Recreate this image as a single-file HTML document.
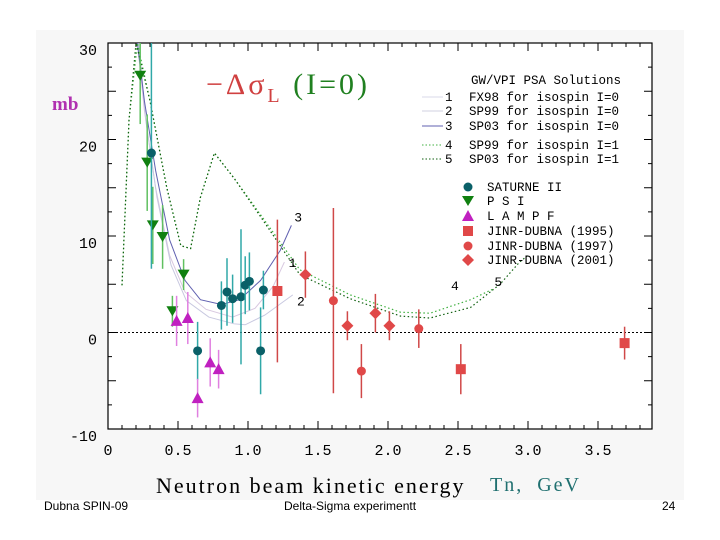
<!DOCTYPE html>
<html><head><meta charset="utf-8"><style>
body{margin:0;background:#fff;}
svg{display:block;font-family:"Liberation Sans",sans-serif;}
</style></head><body>
<svg width="720" height="540" viewBox="0 0 720 540">
<rect x="36" y="30" width="648" height="470" fill="#f7f7f7"/>
<rect x="108" y="43" width="544" height="386" fill="#fff" stroke="#000" stroke-width="1.2"/>
<g id="axes"></g>
<g id="curves"></g>
<g id="marks"></g>
<text x="206" y="94" font-family="Liberation Serif,serif" font-size="30" letter-spacing="3" fill="#d04040">−Δσ<tspan font-size="20" dy="8">L</tspan><tspan dy="-8" fill="#208020"> (I=0)</tspan></text>
<text x="52" y="110" font-family="Liberation Serif,serif" font-size="19" font-weight="bold" fill="#b030b0">mb</text>
<g font-size="12.5" font-family="Liberation Mono,monospace" fill="#000">
<text x="471" y="84">GW/VPI PSA Solutions</text>
</g>
<g id="legend" font-family="Liberation Mono,monospace"></g>
<text x="156" y="493" font-family="Liberation Serif,serif" font-size="22" letter-spacing="2" fill="#000">Neutron beam kinetic energy</text>
<text x="490" y="491" font-family="Liberation Serif,serif" font-size="20" letter-spacing="2" fill="#207070" xml:space="preserve">Tn,  GeV</text>
<text x="44" y="510" font-size="12" fill="#000">Dubna SPIN-09</text>
<text x="284" y="510" font-size="12" fill="#000">Delta-Sigma experimentt</text>
<text x="662" y="510" font-size="12" fill="#000">24</text>
</svg>
<script>
const xTicks=[0,0.5,1.0,1.5,2.0,2.5,3.0,3.5];
const xTickLabels=["0","0.5","1.0","1.5","2.0","2.5","3.0","3.5"];
const yTicks=[30,20,10,0,-10];
const yTickLabels=["30","20","10","0","-10"];
const saturneX=[0.31,0.81,0.85,0.89,0.95,0.98,1.01,1.11,0.64,1.09];
const saturneY=[18.6,2.8,4.2,3.5,3.7,4.9,5.3,4.4,-1.9,-1.9];
const saturneErr=[12,2.5,3.5,2.5,7,3,3,2,3,4.5];
const psiX=[0.23,0.28,0.32,0.39,0.54,0.46];
const psiY=[26.6,17.6,11.1,9.9,6.0,2.2];
const psiErr=[5,5,4,3.3,1.6,1.6];
const lampfX=[0.49,0.57,0.64,0.73,0.79];
const lampfY=[1.2,1.5,-6.8,-3.1,-3.8];
const lampfErr=[2.6,2.7,2.0,2.5,2.0];
const j95X=[1.21,2.52,3.69];
const j95Y=[4.3,-3.8,-1.1];
const j95Err=[7.4,2.6,1.7];
const j97X=[1.61,1.81,2.22];
const j97Y=[3.3,-4.0,0.4];
const j97Err=[9.6,2.8,2.0];
const j01X=[1.41,1.71,1.91,2.01];
const j01Y=[6.0,0.7,2.0,0.7];
const j01Err=[2.4,1.5,2.0,1.5];
const c3X=[0.21,0.26,0.34,0.44,0.55,0.66,0.81,0.94,1.09,1.23,1.31];
const c3Y=[30,24,16.8,9.6,5.4,3.4,2.9,3.4,5.4,8.5,11.1];
const c1X=[0.21,0.26,0.34,0.44,0.55,0.7,0.89,1.05,1.18,1.26];
const c1Y=[30,23,15,8,4.2,2.4,1.6,2.5,4.8,7.3];
const c2X=[0.22,0.27,0.35,0.45,0.56,0.72,0.9,0.98,1.12,1.32];
const c2Y=[30,22,14,7,3.3,1.6,0.9,0.8,1.8,3.9];
const c4X=[0.1,0.15,0.21,0.3,0.42,0.52,0.59,0.66,0.76,0.9,1.09,1.37,1.73,2.09,2.3,2.59,2.75];
const c4Y=[4.9,22,30,24,15,9,8.7,14,18.6,16,12.2,6.5,3.9,2.1,2.0,3.4,4.5];
const c5X=[0.1,0.15,0.2,0.3,0.42,0.52,0.59,0.66,0.76,0.9,1.09,1.37,1.73,2.09,2.3,2.59,2.8,2.94,3.0];
const c5Y=[4.9,22,30,24,15,9,8.7,14,18.6,16,12.0,6.0,3.5,1.7,1.5,2.6,5.0,7.3,8.0];
const NS="http://www.w3.org/2000/svg";
const X0=108,XS=140,Y0=332.5,YS=9.65;
function xs(v){return X0+XS*v;}
function ys(v){return Y0-YS*v;}
function mk(tag,attrs,parent){const e=document.createElementNS(NS,tag);for(const k in attrs)e.setAttribute(k,attrs[k]);parent.appendChild(e);return e;}
const axes=document.getElementById('axes');
for(let i=0;i<=38;i++){const x=X0+14*i;if(x>652)break;const L=i%5===0?8:4;
 let t=mk('line',{x1:x,x2:x,y1:429,y2:429-L,stroke:'#000'},axes);
 t=mk('line',{x1:x,x2:x,y1:43,y2:43+L,stroke:'#000'},axes);}
for(let v=-10;v<=30;v+=2.5){const y=ys(v);const L=(v%5===0)?8:4;
 let t=mk('line',{x1:108,x2:108+L,y1:y,y2:y,stroke:'#000'},axes);
 t=mk('line',{x1:652,x2:652-L,y1:y,y2:y,stroke:'#000'},axes);}
xTicks.forEach((v,i)=>{const t=mk('text',{x:xs(v),y:455,'text-anchor':'middle','font-size':15,'font-family':'Liberation Mono,monospace'},axes);t.textContent=xTickLabels[i];
 });
yTicks.forEach((v,i)=>{const t=mk('text',{x:97,y:ys(v)+12,'text-anchor':'end','font-size':15,'font-family':'Liberation Mono,monospace'},axes);t.textContent=yTickLabels[i];
 });
let zl=mk('line',{x1:108,x2:652,y1:ys(0),y2:ys(0),stroke:'#000','stroke-dasharray':'2,2'},axes);

const cv=document.getElementById('curves');
function curve(X,Y,col,dash,w,name){const d=X.map((v,i)=>(i?'L':'M')+xs(v)+','+ys(Y[i])).join('');
 const p=mk('path',{d:d,fill:'none',stroke:col,'stroke-width':w},cv);if(dash)p.setAttribute('stroke-dasharray',dash);
 }
curve(c1X,c1Y,'#d8c8e0',null,1,'curve-1-fx98');
curve(c2X,c2Y,'#c8c8e0',null,1,'curve-2-sp99');
curve(c3X,c3Y,'#6060b0',null,1,'curve-3-sp03');
curve(c4X,c4Y,'#40b040','1.5,2.5',1.2,'curve-4-sp99-i1');
curve(c5X,c5Y,'#106010','1.5,2.5',1.2,'curve-5-sp03-i1');
[['3',1.33,11.5],['1',1.29,6.8],['2',1.35,2.8],['4',2.45,4.4],['5',2.76,4.8]].forEach(a=>{const t=mk('text',{x:xs(a[1]),y:ys(a[2]),'font-size':13,'font-family':'Liberation Mono,monospace'},cv);t.textContent=a[0];
 });
const mg=document.getElementById('marks');
function shape(kind,cx,cy,col,parent){let e;
 if(kind==='circle')e=mk('circle',{cx:cx,cy:cy,r:4.5,fill:col},parent);
 else if(kind==='down')e=mk('polygon',{points:`${cx-6},${cy-5} ${cx+6},${cy-5} ${cx},${cy+5}`,fill:col},parent);
 else if(kind==='up')e=mk('polygon',{points:`${cx-6},${cy+5} ${cx+6},${cy+5} ${cx},${cy-6}`,fill:col},parent);
 else if(kind==='square')e=mk('rect',{x:cx-5,y:cy-5,width:10,height:10,fill:col},parent);
 else e=mk('polygon',{points:`${cx},${cy-6} ${cx+6},${cy} ${cx},${cy+6} ${cx-6},${cy}`,fill:col},parent);
 return e;}
function series(X,Y,E,kind,col,ecol,name){X.forEach((v,i)=>{const cx=xs(v),cy=ys(Y[i]);
 const top=Math.max(43,ys(Y[i]+E[i])),bot=Math.min(429,ys(Y[i]-E[i]));
 const l=mk('line',{x1:cx,x2:cx,y1:top,y2:bot,stroke:ecol,'stroke-width':1.5},mg);
 
 const s=shape(kind,cx,cy,col,mg);});}
series(psiX,psiY,psiErr,'down','#108010','#60c060','psi');
series(saturneX,saturneY,saturneErr,'circle','#0a6068','#30a8a8','saturne');
series(lampfX,lampfY,lampfErr,'up','#c020c0','#e080e0','lampf');
series(j95X,j95Y,j95Err,'square','#e04848','#d04848','jinr-1995');
series(j97X,j97Y,j97Err,'circle','#e04848','#d04848','jinr-1997');
series(j01X,j01Y,j01Err,'diamond','#e04848','#d04848','jinr-2001');
const lg=document.getElementById('legend');
[['1','FX98 for isospin I=0','#d8d8e8',null,101],['2','SP99 for isospin I=0','#d0d0e0',null,115],['3','SP03 for isospin I=0','#6060b0',null,130],['4','SP99 for isospin I=1','#40b040','1.5,2',149],['5','SP03 for isospin I=1','#106010','1.5,2',163]].forEach(a=>{
 const l=mk('line',{x1:422,x2:443,y1:a[4]-4,y2:a[4]-4,stroke:a[2]},lg);if(a[3])l.setAttribute('stroke-dasharray',a[3]);
 
 let t=mk('text',{x:445,y:a[4],'font-size':12.5},lg);t.textContent=a[0];
 t=mk('text',{x:469,y:a[4],'font-size':12.5},lg);t.textContent=a[1];});
[['circle','#0a6068','SATURNE II',187],['down','#108010','P S I',201],['up','#c020c0','L A M P F',216],['square','#e04848','JINR-DUBNA (1995)',231],['circle','#e04848','JINR-DUBNA (1997)',246],['diamond','#e04848','JINR-DUBNA (2001)',260]].forEach(a=>{
 const s=shape(a[0],468,a[3],a[1],lg);
 const t=mk('text',{x:487,y:a[3]+4,'font-size':12.5},lg);t.textContent=a[2];});
</script>
</body></html>
